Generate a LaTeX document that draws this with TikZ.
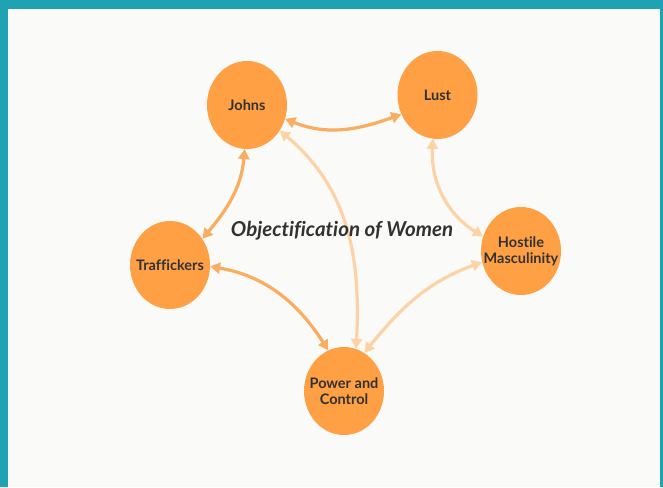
\documentclass[tikz,border=0pt]{standalone}
\usepackage{fontspec}
\setmainfont{Lato}[Ligatures=NoCommon]
\usetikzlibrary{shapes.geometric,arrows.meta}
\definecolor{teal1}{RGB}{31,163,179}
\definecolor{bgc}{RGB}{250,250,248}
\definecolor{nodeor}{RGB}{254,160,67}
\definecolor{darkarr}{RGB}{250,172,95}
\definecolor{lightarr}{RGB}{253,211,166}
\definecolor{txt}{RGB}{50,50,50}
\begin{document}
\begin{tikzpicture}[x=1pt,y=1pt,
  blob/.style={ellipse,fill=nodeor,draw=none,minimum width=80pt,minimum height=88pt,inner sep=0pt},
  lbl/.style={font=\bfseries\fontsize{14.5}{16}\selectfont,text=txt,align=center,inner sep=0pt},
  conn/.style={line width=3.2pt,{Triangle[length=10pt,width=11pt]}-{Triangle[length=10pt,width=11pt]}},
  dconn/.style={conn,draw=darkarr},
  lconn/.style={conn,draw=lightarr}]
\useasboundingbox (0,0) rectangle (663,487);
\fill[teal1] (0,0) rectangle (663,487);
\fill[bgc] (8,0) rectangle (660,478);
% nodes
\node[blob] (johns) at (247,382) {};
\node[blob] (lust) at (437.5,392) {};
\node[blob] (traff) at (170,222) {};
\node[blob] (power) at (344,96) {};
\node[blob] (host) at (521,236) {};
\node[lbl] (johnsT) at (johns) {Johns};
\node[lbl] (lustT) at (lust) {Lust};
\node[lbl] (traffT) at (traff) {Traffickers};
\node[lbl] (powerT) at (power) {Power and\\Control};
\node[lbl] (hostT) at (host) {Hostile\\Masculinity};
% connectors
\draw[lconn] (johns.-38) to[out=-40,in=87] (power.74);
\draw[lconn] (lust.-96) to[out=-93,in=148] (host.159);
\draw[lconn] (host.196) to[out=200,in=51] (power.62);
\draw[dconn] (johns.-20) to[out=-22,in=200] (lust.208);
\draw[dconn] (johns.-93) to[out=-95,in=50] (traff.39);
\draw[dconn] (traff.-2) to[out=-10,in=123] (power.111);
\node[font=\bfseries\itshape\fontsize{20.5}{23}\selectfont,text=txt,inner sep=0pt] (title) at (342,256) {Objectification of Women};
\end{tikzpicture}
\end{document}
